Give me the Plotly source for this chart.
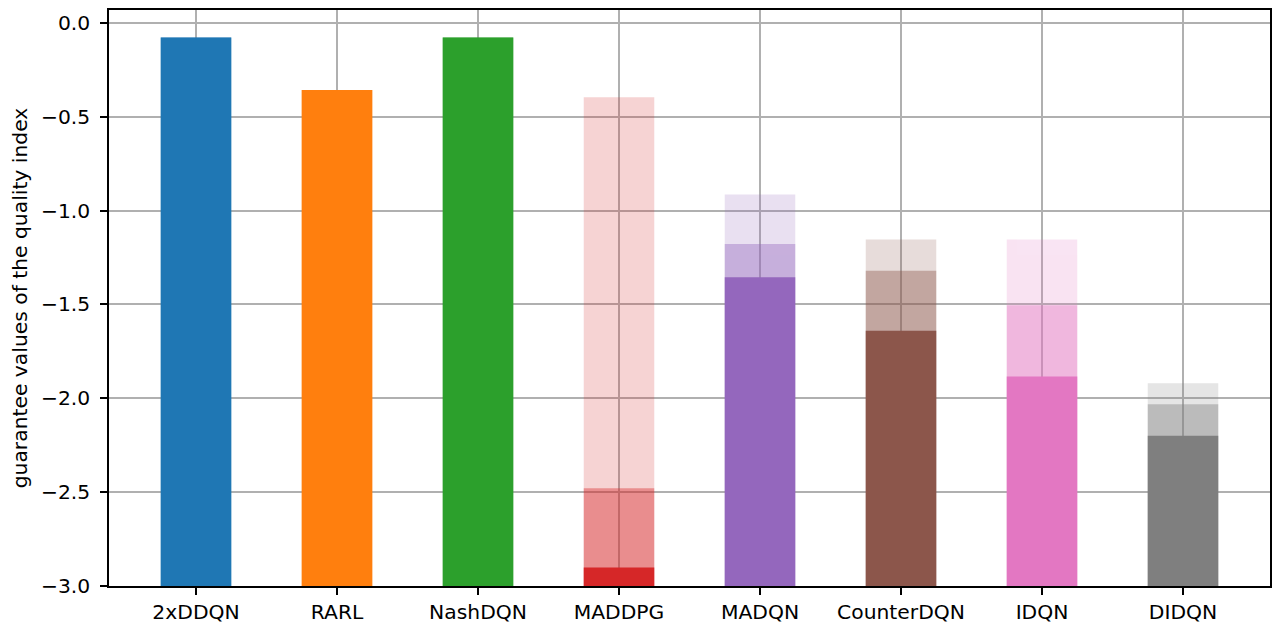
import plotly.graph_objects as go

categories = ["2xDDQN", "RARL", "NashDQN", "MADDPG", "MADQN", "CounterDQN", "IDQN", "DIDQN"]
best_values = [-0.078, -0.358, -0.078, -0.397, -0.915, -1.154, -1.154, -1.920]
mean_values = [-0.078, -0.358, -0.078, -2.479, -1.179, -1.321, -1.504, -2.032]
worst_values = [-0.078, -0.358, -0.078, -2.901, -1.355, -1.640, -1.884, -2.200]
colors = ["#1f77b4", "#ff7f0e", "#2ca02c", "#d62728", "#9467bd", "#8c564b", "#e377c2", "#7f7f7f"]
y_tick_values = [0.0, -0.5, -1.0, -1.5, -2.0, -2.5, -3.0]
bottom = -3.0

fig = go.Figure()
for vals, op in [(best_values, 0.2), (mean_values, 0.4), (worst_values, 1.0)]:
    fig.add_trace(go.Bar(
        x=categories,
        y=[v - bottom for v in vals],
        base=bottom,
        width=0.5,
        marker=dict(color=colors, line=dict(width=0)),
        opacity=op,
        showlegend=False,
    ))

font = dict(family="DejaVu Sans", size=20.3, color="black")
fig.update_layout(
    template="none",
    barmode="overlay",
    width=1279, height=634,
    margin=dict(l=109, r=9, t=10, b=48, autoexpand=False),
    paper_bgcolor="white", plot_bgcolor="white",
    font=font,
)
fig.update_xaxes(
    type="category",
    range=[-0.617, 7.617],
    showgrid=True, gridcolor="#b0b0b0", gridwidth=1.5,
    showline=True, linecolor="black", linewidth=1.5, mirror=True,
    ticks="outside", ticklen=7, tickwidth=1.5, tickcolor="black",
    tickfont=font, zeroline=False, automargin=False,
)
fig.update_yaxes(
    range=[-3.0, 0.068],
    tickvals=y_tick_values,
    tickformat=".1f",
    showgrid=True, gridcolor="#b0b0b0", gridwidth=1.5,
    showline=True, linecolor="black", linewidth=1.5, mirror=True,
    ticks="outside", ticklen=7, tickwidth=1.5, tickcolor="black",
    ticklabelstandoff=6,
    tickfont=font, zeroline=False, automargin=False,
    title=dict(text="guarantee values of the quality index", font=font, standoff=8),
)
fig.write_html("out.html", config={"displayModeBar": False},
               post_script="document.body.style.margin='0px';")
